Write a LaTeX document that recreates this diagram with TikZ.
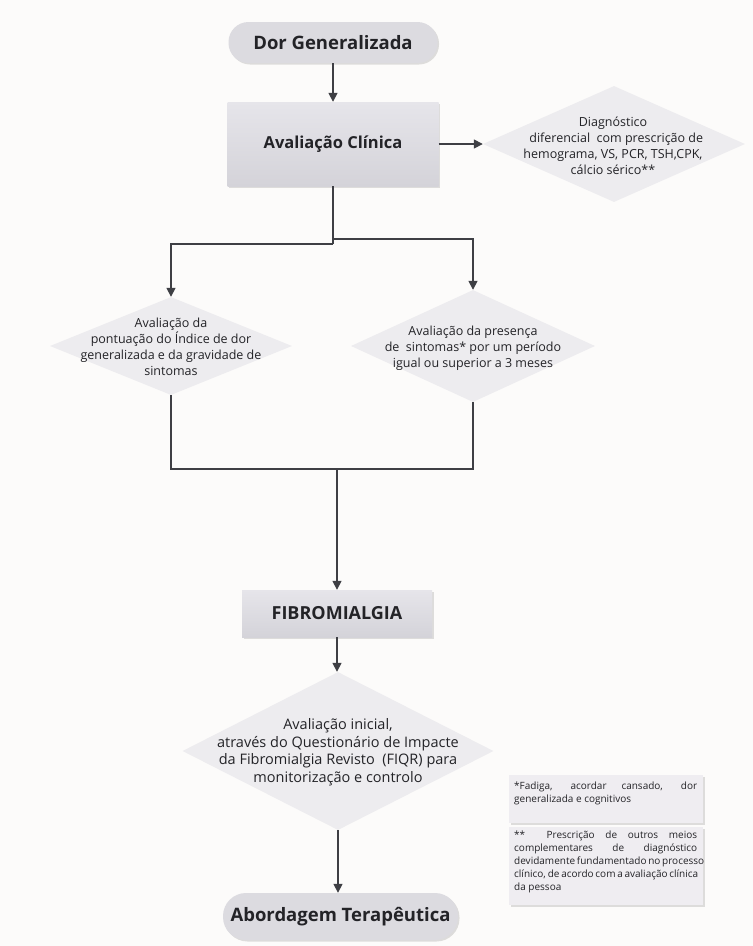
\documentclass[tikz,border=0pt]{standalone}
\usepackage{fontspec}
\setmainfont{Open Sans}
\usetikzlibrary{shapes.geometric,arrows.meta,shadows}

\definecolor{paper}{HTML}{FCFBFA}
\definecolor{pillfill}{HTML}{DCDBE0}
\definecolor{boxtop}{HTML}{E6E5EA}
\definecolor{boxbot}{HTML}{D4D3D9}
\definecolor{decfill}{HTML}{EDECEF}
\definecolor{notefill}{HTML}{EFEDF1}
\definecolor{ink}{HTML}{232327}
\definecolor{wire}{HTML}{3E3F44}

\tikzset{
  softshadow/.style={drop shadow={shadow xshift=1.5pt,shadow yshift=-1.5pt,fill=black,opacity=0.12}},
  pill/.style={rectangle,rounded corners=20pt,fill=pillfill,softshadow,text=ink,
    font=\bfseries\fontsize{18.5}{22}\selectfont,inner sep=0pt},
  stepbox/.style={rectangle,top color=boxtop,bottom color=boxbot,softshadow,text=ink,
    font=\bfseries\fontsize{16.5}{21}\selectfont,inner sep=0pt},
  decision/.style={diamond,fill=decfill,inner sep=0pt,draw=none},
  dtext/.style={align=center,text=ink,font=\fontsize{12.5}{16}\selectfont,inner sep=0pt},
  notebox/.style={rectangle,fill=notefill,softshadow,inner sep=0pt,anchor=north west},
  notetext/.style={align=left,text=ink,font=\fontsize{10}{13}\selectfont,inner sep=0pt,anchor=north west},
  wireline/.style={draw=wire,line width=1.6pt},
  arrow/.style={wireline,-{Triangle[length=9pt,width=9pt]}}
}

\newcommand{\jline}[1]{\makebox[183pt][s]{#1}}

\begin{document}
\begin{tikzpicture}[x=1pt,y=-1pt]
  % page
  \fill[paper] (0,0) rectangle (753,946);
  \useasboundingbox (0,0) rectangle (753,946);

  % main column
  \node[pill,minimum width=209,minimum height=41] (start) at (333,42.5) {Dor Generalizada};
  \node[stepbox,minimum width=211,minimum height=84] (clin) at (333,144) {Avaliação Clínica};

  % differential diagnosis
  \node[decision,minimum width=262,minimum height=116] (diff) at (614,144) {};
  \node[dtext] at (613,146) {Diagnóstico\\\ \ diferencial\ \ com prescrição de\\hemograma, VS, PCR, TSH,CPK,\\cálcio sérico**};

  % the two assessments
  \node[decision,minimum width=242,minimum height=98] (evalA) at (171,346) {};
  \node[dtext] at (171,347) {Avaliação da\\pontuação do Índice de dor\\generalizada e da gravidade de\\sintomas};
  \node[decision,minimum width=244,minimum height=112] (evalB) at (473,346) {};
  \node[dtext] at (473,348) {Avaliação da presença\\de\ \ sintomas* por um período\\igual ou superior a 3 meses};

  \node[stepbox,minimum width=190,minimum height=47,font=\bfseries\fontsize{18}{21}\selectfont] (fibro) at (337,613.5) {FIBROMIALGIA};

  \node[decision,minimum width=311,minimum height=158] (fiqr) at (338,751) {};
  \node[dtext,font=\fontsize{14.5}{17.5}\selectfont] at (338,752)
    {Avaliação inicial,\\através do Questionário de Impacte\\da Fibromialgia Revisto\ \ (FIQR) para\\monitorização e controlo};

  \node[pill,minimum width=235,minimum height=47,rounded corners=23pt,font=\bfseries\fontsize{18.5}{22}\selectfont] (therapy) at (340.5,916.5) {Abordagem Terapêutica};

  % footnotes
  \node[notebox,minimum width=194,minimum height=48] (noteA) at (509,775) {};
  \node[notetext] at (514,782) {\jline{*Fadiga, acordar cansado, dor}\\generalizada e cognitivos};
  \node[notebox,minimum width=194,minimum height=78] (noteB) at (509,827) {};
  \node[notetext] at (514,831) {\jline{** \ Prescrição de outros meios}\\\jline{complementares de diagnóstico}\\\jline{devidamente fundamentado no processo}\\\jline{clínico, de acordo com a avaliação clínica}\\da pessoa};

  % junction points
  \coordinate (splitL) at (333,244);
  \coordinate (splitR) at (333,239);
  \coordinate (merge) at (337,469);

  % connectors
  \draw[arrow] (start.south) -- (clin.north);
  \draw[arrow] (clin.east) -- (diff.west);
  \draw[wireline] (clin.south) -- (splitL);
  \draw[arrow] (splitL) -| (evalA.north);
  \draw[arrow] (splitR) -| (evalB.north);
  \draw[wireline] (evalA.south) -- (evalA.south |- merge) -- (evalB.south |- merge) -- (evalB.south);
  \draw[arrow] (merge) -- (fibro.north);
  \draw[arrow] (fibro.south) -- (fibro.south |- fiqr.north);
  \draw[arrow] (fiqr.south) -- (fiqr.south |- therapy.north);
\end{tikzpicture}
\end{document}
